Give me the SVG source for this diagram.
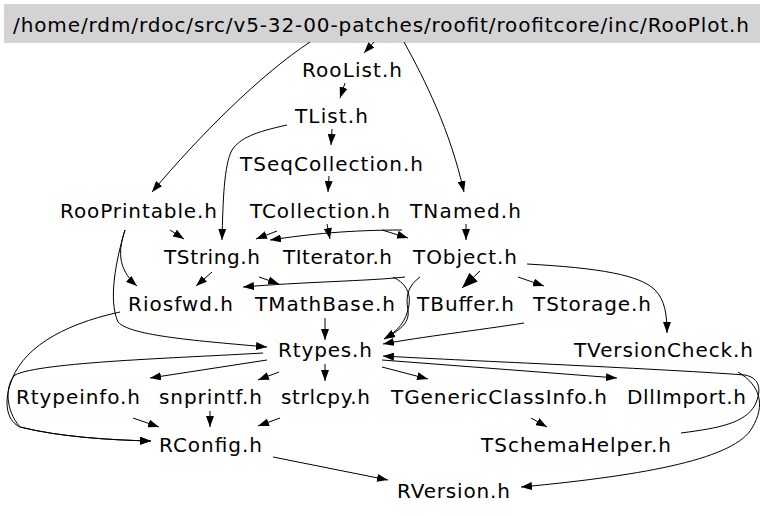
<svg xmlns="http://www.w3.org/2000/svg" width="768" height="516" viewBox="0 0 768 516">
<defs>
<marker id="ah" markerUnits="userSpaceOnUse" markerWidth="11" markerHeight="8" refX="11" refY="4" orient="auto">
<path d="M0,0 L11,4 L0,8 z" fill="#000"/>
</marker>
<marker id="ahb" markerUnits="userSpaceOnUse" markerWidth="16" markerHeight="12" refX="16" refY="6" orient="auto">
<path d="M0,0 L16,6 L0,12 z" fill="#000"/>
</marker>
<style>
text{font-family:"DejaVu Sans","Liberation Sans",sans-serif;font-size:20px;fill:#000;text-anchor:middle}
.e path{fill:none;stroke:#000;stroke-width:1;marker-end:url(#ah)}
.e path.b{marker-end:url(#ahb)}
</style>
</defs>
<rect width="768" height="516" fill="#fff"/>
<g id="n_root"><rect x="4" y="4" width="756" height="39" fill="#d3d3d3"/><text x="381" y="32" textLength="736" lengthAdjust="spacing">/home/rdm/rdoc/src/v5-32-00-patches/roofit/roofitcore/inc/RooPlot.h</text></g>
<g id="n_RooList"><text x="352" y="77" textLength="100" lengthAdjust="spacing">RooList.h</text></g>
<g id="n_TList"><text x="331.5" y="123" textLength="73" lengthAdjust="spacing">TList.h</text></g>
<g id="n_TSeqCollection"><text x="331.5" y="171" textLength="183" lengthAdjust="spacing">TSeqCollection.h</text></g>
<g id="n_RooPrintable"><text x="138.5" y="218" textLength="157" lengthAdjust="spacing">RooPrintable.h</text></g>
<g id="n_TCollection"><text x="320" y="218" textLength="140" lengthAdjust="spacing">TCollection.h</text></g>
<g id="n_TNamed"><text x="465.5" y="218" textLength="111" lengthAdjust="spacing">TNamed.h</text></g>
<g id="n_TString"><text x="212" y="264" textLength="96" lengthAdjust="spacing">TString.h</text></g>
<g id="n_TIterator"><text x="337.5" y="264" textLength="109" lengthAdjust="spacing">TIterator.h</text></g>
<g id="n_TObject"><text x="465" y="264" textLength="104" lengthAdjust="spacing">TObject.h</text></g>
<g id="n_Riosfwd"><text x="180.5" y="311" textLength="105" lengthAdjust="spacing">Riosfwd.h</text></g>
<g id="n_TMathBase"><text x="325" y="311" textLength="140" lengthAdjust="spacing">TMathBase.h</text></g>
<g id="n_TBuffer"><text x="465.5" y="311" textLength="97" lengthAdjust="spacing">TBuffer.h</text></g>
<g id="n_TStorage"><text x="592" y="311" textLength="118" lengthAdjust="spacing">TStorage.h</text></g>
<g id="n_TVersionCheck"><text x="663.5" y="357" textLength="179" lengthAdjust="spacing">TVersionCheck.h</text></g>
<g id="n_Rtypes"><text x="325" y="357" textLength="94" lengthAdjust="spacing">Rtypes.h</text></g>
<g id="n_Rtypeinfo"><text x="78" y="404" textLength="124" lengthAdjust="spacing">Rtypeinfo.h</text></g>
<g id="n_snprintf"><text x="210.5" y="404" textLength="103" lengthAdjust="spacing">snprintf.h</text></g>
<g id="n_strlcpy"><text x="325.5" y="404" textLength="89" lengthAdjust="spacing">strlcpy.h</text></g>
<g id="n_TGenericClassInfo"><text x="499" y="404" textLength="216" lengthAdjust="spacing">TGenericClassInfo.h</text></g>
<g id="n_DllImport"><text x="686.5" y="404" textLength="119" lengthAdjust="spacing">DllImport.h</text></g>
<g id="n_RConfig"><text x="210.5" y="452" textLength="103" lengthAdjust="spacing">RConfig.h</text></g>
<g id="n_TSchemaHelper"><text x="576" y="452" textLength="190" lengthAdjust="spacing">TSchemaHelper.h</text></g>
<g id="n_RVersion"><text x="453.5" y="498" textLength="113" lengthAdjust="spacing">RVersion.h</text></g>
<g id="edges" class="e">
<path d="M374,42 L364,53"/>
<path d="M310,42 C260,75 200,135 152,192"/>
<path d="M404,42 C425,80 450,130 464,192"/>
<path d="M345,83 L340,98"/>
<path d="M332,129 L331,145"/>
<path d="M287,125 C255,132 240,138 232,150 C224,165 223,200 222,240"/>
<path d="M329,176 L328,192"/>
<path d="M277,231 L256,239"/>
<path d="M402,230 C350,230 310,234 270,240"/>
<path d="M327,224 L330,239"/>
<path d="M382,230 L408,238"/>
<path d="M466,224 L466,240"/>
<path d="M170,230 L184,239"/>
<path d="M125,230 C119,248 116,268 137,286"/>
<path d="M125,230 C116,260 108,300 118,322 C130,336 200,341 267,347"/>
<path d="M212,272 L196,286"/>
<path d="M259,277 L279,284"/>
<path d="M405,277 C370,281 300,282 243,287"/>
<path d="M393,277 C405,283 411,292 409,305 C406,322 398,331 384,339"/>
<path d="M420,277 C409,285 405,295 408,310 C410,324 398,331 384,339"/>
<path class="b" d="M480,271 L462,288"/>
<path d="M518,277 L544,286"/>
<path d="M527,264 C600,268 640,275 655,290 C665,300 667,315 667,333"/>
<path d="M325,318 L325,340"/>
<path d="M524,323 C480,330 420,337 383,344"/>
<path d="M120,312 C60,325 20,350 10,385 C5,400 5,420 20,427 C60,437 110,440 151,441"/>
<path d="M263,353 C180,358 40,362 15,375 C5,385 5,410 20,427 C60,437 110,440 151,441"/>
<path d="M267,360 L150,378"/>
<path d="M279,372 L258,380"/>
<path d="M325,364 L325,381"/>
<path d="M382,367 L428,379"/>
<path d="M382,360 L617,378"/>
<path d="M681,433 C720,428 745,423 755,405 C762,390 760,378 745,375 C650,368 450,360 383,356"/>
<path d="M738,372 C760,385 766,405 752,428 C735,458 650,475 521,487"/>
<path d="M531,418 L547,427"/>
<path d="M133,418 L159,427"/>
<path d="M210,411 L210,427"/>
<path d="M280,418 L258,426"/>
<path d="M273,457 L388,480"/>
</g>
</svg>
